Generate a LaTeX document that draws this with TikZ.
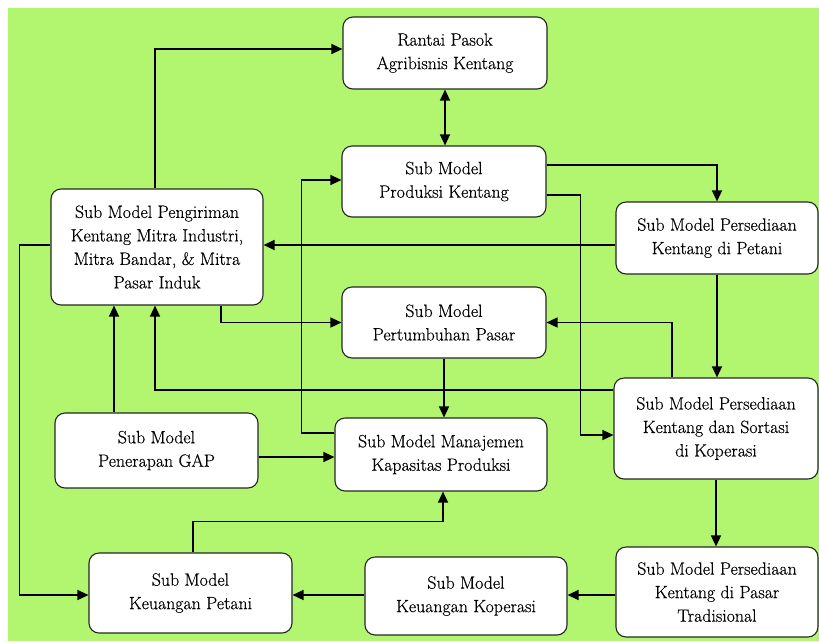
\documentclass[tikz,border=0pt]{standalone}
\usepackage{fontspec}
\setmainfont{Latin Modern Roman}[FakeBold=0.4]
\usetikzlibrary{arrows.meta}
\definecolor{bggreen}{RGB}{178,246,112}
\begin{document}
\begin{tikzpicture}[x=1pt,y=-1pt,
  modelbox/.style={draw=black!85, line width=1.1pt, fill=white, rounded corners=10pt,
    align=center, inner sep=0pt, text=black,
    font=\fontsize{17.8}{23.5}\selectfont},
  arr/.style={draw=black, line width=1.2pt, -{Triangle[length=11pt,width=10pt]}},
  arrboth/.style={draw=black, line width=1.2pt, {Triangle[length=11pt,width=10pt]}-{Triangle[length=11pt,width=10pt]}}]
  % canvas
  \useasboundingbox (0,0) rectangle (819,641);
  \fill[white] (0,0) rectangle (819,641);
  \fill[bggreen] (8,8) rectangle (819,641);

  % sub models
  \node[modelbox, minimum width=204pt, minimum height=72pt] (rantai) at (445,53)
    {Rantai Pasok\\Agribisnis Kentang};
  \node[modelbox, minimum width=204pt, minimum height=71pt] (produksi) at (444,181.5)
    {Sub Model\\Produksi Kentang};
  \node[modelbox, minimum width=212pt, minimum height=116pt] (kirim) at (157,247)
    {Sub Model Pengiriman\\Kentang Mitra Industri,\\Mitra Bandar, \& Mitra\\Pasar Induk};
  \node[modelbox, minimum width=202pt, minimum height=72pt] (petani) at (717,238)
    {Sub Model Persediaan\\Kentang di Petani};
  \node[modelbox, minimum width=204pt, minimum height=71pt] (tumbuh) at (444,322.5)
    {Sub Model\\Pertumbuhan Pasar};
  \node[modelbox, minimum width=204pt, minimum height=101pt] (koperasi) at (716,428.5)
    {Sub Model Persediaan\\Kentang dan Sortasi\\di Koperasi};
  \node[modelbox, minimum width=203pt, minimum height=75pt] (gap) at (156.5,450.5)
    {Sub Model\\Penerapan GAP};
  \node[modelbox, minimum width=212pt, minimum height=73pt] (kapasitas) at (441,454.5)
    {Sub Model Manajemen\\Kapasitas Produksi};
  \node[modelbox, minimum width=203pt, minimum height=80pt] (kpetani) at (190.5,593)
    {Sub Model\\Keuangan Petani};
  \node[modelbox, minimum width=202pt, minimum height=78pt] (kkoperasi) at (466,596)
    {Sub Model\\Keuangan Koperasi};
  \node[modelbox, minimum width=202pt, minimum height=90pt] (pasar) at (717,592)
    {Sub Model Persediaan\\Kentang di Pasar\\Tradisional};

  % connectors
  \draw[arr] ([xshift=-2pt]kirim.north) |- ([yshift=4pt]rantai.west);
  \draw[arrboth] (rantai.south) -- (rantai.south |- produksi.north);
  \draw[arr] ([yshift=16.5pt]produksi.east) -| (petani.north);
  \draw[arr] ([yshift=-13.5pt]produksi.east) -- ++(34,0) |- ([yshift=-6.5pt]koperasi.west);
  \draw[arr] ([yshift=-7pt]petani.west) -- ([yshift=-7pt]petani.west -| kirim.east);
  \draw[arr] (petani.south) -- (petani.south |- koperasi.north);
  \draw[arr] ([xshift=-44pt]koperasi.north) |- (tumbuh.east);
  \draw[arr] ([yshift=38.5pt]koperasi.west) -| ([xshift=-2pt]kirim.south);
  \draw[arr] ([xshift=-42.5pt]gap.north) -- ([xshift=-42.5pt]gap.north |- kirim.south);
  \draw[arr] ([xshift=64pt]kirim.south) |- (tumbuh.west);
  \draw[arr] ([yshift=21.5pt]kapasitas.west) -- ++(-33,0) |- ([yshift=1.5pt]produksi.west);
  \draw[arr] ([yshift=-6.5pt]gap.east) -- ([yshift=-6.5pt]gap.east -| kapasitas.west);
  \draw[arr] (tumbuh.south) -- (tumbuh.south |- kapasitas.north);
  \draw[arr] ([xshift=2.5pt]kpetani.north) -- ++(0,-31) -| ([xshift=2pt]kapasitas.south);
  \draw[arr] ([yshift=2pt]kirim.west) -- ++(-31,0) |- ([yshift=-2pt]kpetani.west);
  \draw[arr] ([yshift=1pt]kkoperasi.west) -- ([yshift=1pt]kkoperasi.west -| kpetani.east);
  \draw[arr] ([yshift=-3pt]pasar.west) -- ([yshift=-3pt]pasar.west -| kkoperasi.east);
  \draw[arr] (koperasi.south) -- (koperasi.south |- pasar.north);
\end{tikzpicture}
\end{document}
